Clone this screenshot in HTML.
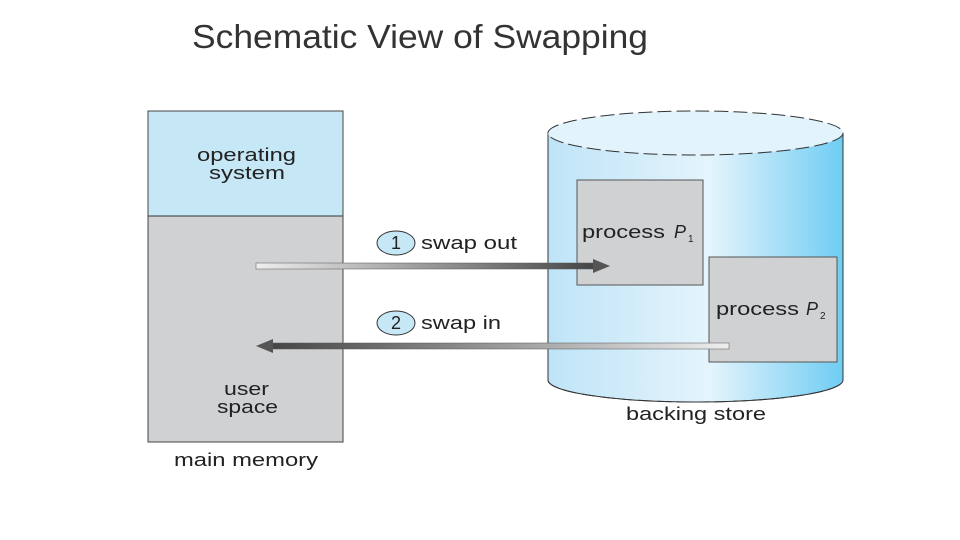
<!DOCTYPE html>
<html><head><meta charset="utf-8"><style>
html,body{margin:0;padding:0;background:#fff;width:960px;height:540px;overflow:hidden}
svg{display:block}
</style></head><body>
<svg width="960" height="540" viewBox="0 0 960 540" xmlns="http://www.w3.org/2000/svg" font-family="Liberation Sans, sans-serif">
<defs>
<linearGradient id="cyl" x1="0" x2="1" y1="0" y2="0">
<stop offset="0" stop-color="#bfe4f7"/><stop offset="0.55" stop-color="#e4f4fc"/><stop offset="1" stop-color="#6fcdf3"/>
</linearGradient>
<linearGradient id="a1" x1="0" x2="1"><stop offset="0" stop-color="#eeeeee"/><stop offset="1" stop-color="#444"/></linearGradient>
<linearGradient id="a2" x1="0" x2="1"><stop offset="0" stop-color="#444"/><stop offset="1" stop-color="#eeeeee"/></linearGradient>
</defs>
<text x="192" y="48" font-size="33" fill="#333" textLength="456" lengthAdjust="spacingAndGlyphs">Schematic View of Swapping</text>
<rect x="148" y="111" width="195" height="105" fill="#c6e7f6"/>
<rect x="148" y="216" width="195" height="226" fill="#d0d1d3"/>
<line x1="148" y1="216" x2="343" y2="216" stroke="#333" stroke-width="1"/>
<rect x="148" y="111" width="195" height="331" fill="none" stroke="#444" stroke-width="1"/>
<g font-size="18" fill="#222" lengthAdjust="spacingAndGlyphs">
<text x="197" y="161" textLength="99" lengthAdjust="spacingAndGlyphs">operating</text>
<text x="209" y="179" textLength="76" lengthAdjust="spacingAndGlyphs">system</text>
<text x="224" y="395" textLength="45" lengthAdjust="spacingAndGlyphs">user</text>
<text x="217" y="413" textLength="61" lengthAdjust="spacingAndGlyphs">space</text>
<text x="174" y="466" textLength="144" lengthAdjust="spacingAndGlyphs">main memory</text>
</g>
<path d="M548 133 L548 380 A147.5 22 0 0 0 843 380 L843 133 Z" fill="url(#cyl)" stroke="#333" stroke-width="1"/>
<ellipse cx="695.5" cy="133" rx="147.5" ry="22" fill="#e2f3fb" stroke="#333" stroke-width="1" stroke-dasharray="14 5"/>
<path d="M548 380 A147.5 22 0 0 0 843 380" fill="none" stroke="#333" stroke-dasharray="14 5"/>
<rect x="577" y="180" width="126" height="105" fill="#d0d1d3" stroke="#555" stroke-width="1"/>
<rect x="709" y="257" width="128" height="105" fill="#d0d1d3" stroke="#555" stroke-width="1"/>
<g font-size="18" fill="#222">
<text x="582" y="238" textLength="83" lengthAdjust="spacingAndGlyphs">process</text>
<text x="674" y="238" font-style="italic">P</text><text x="688" y="242" font-size="10">1</text>
<text x="716" y="315" textLength="83" lengthAdjust="spacingAndGlyphs">process</text>
<text x="806" y="315" font-style="italic">P</text><text x="820" y="319" font-size="10">2</text>
<text x="626" y="420" textLength="140" lengthAdjust="spacingAndGlyphs">backing store</text>
</g>
<rect x="256" y="263" width="342" height="6" fill="url(#a1)" stroke="#555" stroke-width="0.5"/>
<polygon points="593,259 610,266 593,273" fill="#555"/>
<rect x="268" y="343" width="461" height="6" fill="url(#a2)" stroke="#555" stroke-width="0.5"/>
<polygon points="273,339 256,346 273,353" fill="#555"/>
<ellipse cx="396" cy="243" rx="19" ry="12" fill="#c6e7f6" stroke="#333"/>
<text x="396" y="249" font-size="18" text-anchor="middle" fill="#222">1</text>
<text x="421" y="249" font-size="18" fill="#222" textLength="96" lengthAdjust="spacingAndGlyphs">swap out</text>
<ellipse cx="396" cy="323" rx="19" ry="12" fill="#c6e7f6" stroke="#333"/>
<text x="396" y="329" font-size="18" text-anchor="middle" fill="#222">2</text>
<text x="421" y="329" font-size="18" fill="#222" textLength="80" lengthAdjust="spacingAndGlyphs">swap in</text>
</svg>
</body></html>
